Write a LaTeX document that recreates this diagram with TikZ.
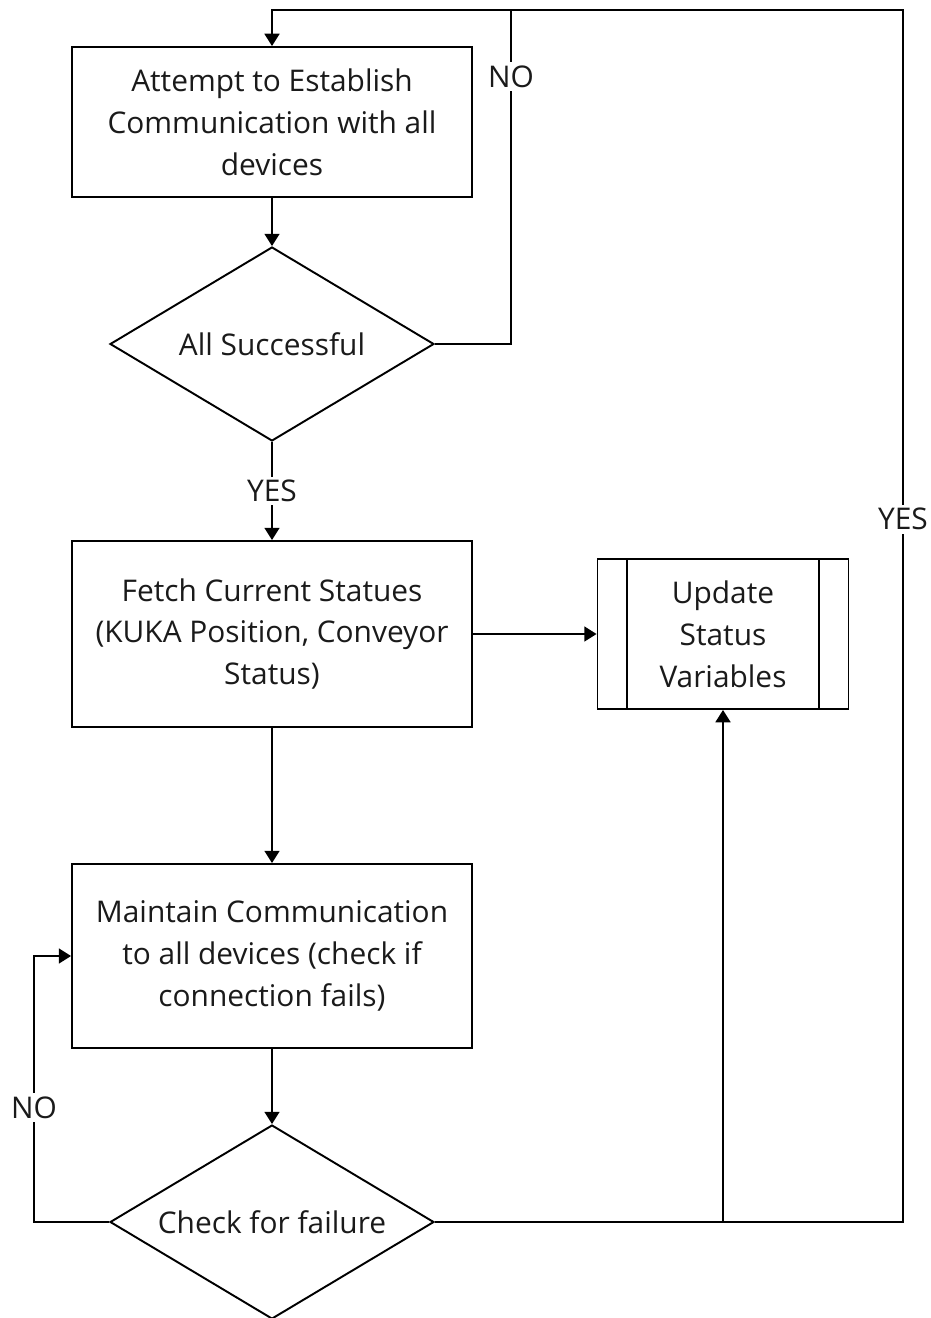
\documentclass[tikz,border=0pt]{standalone}
\usepackage{fontspec}
\setmainfont{Open Sans}
\usetikzlibrary{shapes.geometric,arrows.meta}
\newcommand\chartfont{\fontsize{17}{23.8}\selectfont}
\definecolor{inkgray}{HTML}{1A1A1A}
\tikzset{
  box/.style={draw, rectangle, minimum width=8cm, align=center, inner sep=0pt},
  decision/.style={draw, diamond, aspect=1.67, minimum width=6.48cm, minimum height=3.88cm, inner sep=0pt},
  subproc/.style={draw, rectangle, minimum width=5.02cm, minimum height=3cm, align=center, inner sep=0pt},
  tag/.style={fill=white, inner sep=2pt}
}
\begin{document}
\begin{tikzpicture}[x=0.02cm, y=-0.02cm, line width=1.1pt, font=\chartfont, text=inkgray,
  >={Triangle[length=7pt,width=8.5pt]}]
\useasboundingbox (0,0) rectangle (930,1318);
\node[box, minimum height=3cm] (attempt) at (272,122) {Attempt to Establish\\Communication with all\\devices};
\node[decision] (allok) at (272,344) {All Successful};
\node[box, minimum height=3.72cm] (fetch) at (272,634) {Fetch Current Statues\\(KUKA Position, Conveyor\\Status)};
\node[subproc] (update) at (723,634) {Update\\Status\\Variables};
\node[box, minimum height=3.68cm] (maintain) at (272,956) {Maintain Communication\\to all devices (check if\\connection fails)};
\node[decision] (check) at (272,1222) {Check for failure};
\coordinate (topno) at (511,10);
\coordinate (topright) at (903,10);
\coordinate (noturn) at ([xshift=-0.74cm]maintain.west);
\coordinate (yesturn) at (check.east -| update.south);
\draw ([xshift=0.6cm]update.north west) -- ([xshift=0.6cm]update.south west);
\draw ([xshift=-0.6cm]update.north east) -- ([xshift=-0.6cm]update.south east);
\draw[->] (attempt) -- (allok);
\draw[->] (allok.south) -- node[tag]{YES} (fetch.north);
\draw[->] (fetch) -- (update);
\draw[->] (fetch) -- (maintain);
\draw[->] (maintain) -- (check);
\draw[->] (allok.east) -| node[tag, pos=0.9]{NO} (topno) -| (attempt.north);
\draw[->] (check.west) -| node[tag, pos=0.715]{NO} (noturn) -- (maintain.west);
\draw[->] (check.east) -| (update.south);
\draw (yesturn) -| node[tag, pos=0.79]{YES} (topright) -- (topno);
\end{tikzpicture}
\end{document}
